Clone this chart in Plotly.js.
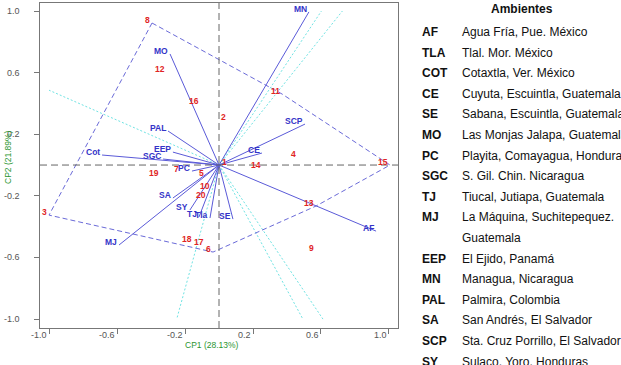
<!DOCTYPE html>
<html>
<head>
<meta charset="utf-8">
<script src="https://cdn.plot.ly/plotly-3.0.1.min.js"></script>
<style>
html, body { margin: 0; padding: 0; background: #ffffff; overflow: hidden; }
#chart { width: 621px; height: 365px; }
</style>
</head>
<body>
<div id="chart"></div>
<script>
// GGE biplot: genotype scores on CP1 / CP2
const genotypeLabels = ['1','2','3','4','5','6','7','8','9','10','11','12','13','14','15','16','17','18','19','20'];
const genotypeCP1 = [0.056, 0.05, -1.0, 0.462, -0.074, -0.035, -0.221, -0.394, 0.571, -0.041,
                     0.371, -0.306, 0.571, 0.259, 1.006, -0.106, -0.074, -0.147, -0.341, -0.065];
const genotypeCP2 = [0.002, 0.292, -0.325, 0.052, -0.071, -0.565, -0.045, 0.922, -0.558, -0.156,
                     0.461, 0.604, -0.266, -0.019, 0.0, 0.396, -0.519, -0.5, -0.071, -0.211];

// Environment vectors
const envLabels = ['MN','SCP','CE','AF','SE','TJ','Tla','SY','SA','MJ','PC','SGC','Cot','EEP','PAL','MO'];
const envCP1 = [0.529, 0.506, 0.253, 0.924, 0.082, -0.118, -0.053, -0.171, -0.271, -0.588,
                -0.159, -0.329, -0.688, -0.271, -0.3, -0.288];
const envCP2 = [0.994, 0.266, 0.078, -0.429, -0.351, -0.338, -0.344, -0.292, -0.214, -0.519,
                -0.039, 0.039, 0.065, 0.084, 0.221, 0.721];

// Vertex genotypes of the polygon, in drawing order
const polygonGenotypes = ['8','11','15','13','6','3'];

// Axes
const tickValues = [-1.0, -0.6, -0.2, 0.2, 0.6, 1.0];
const tickLabels = ['-1.0', '-0.6', '-0.2', '0.2', '0.6', '1.0'];
const xTitle = 'CP1 (28.13%)';
const yTitle = 'CP2 (21.89%)';

// Key of environments
const keyTitle = 'Ambientes';
const keyCodes = ['AF','TLA','COT','CE','SE','MO','PC','SGC','TJ','MJ','EEP','MN','PAL','SA','SCP','SY'];
const keyNames = [
  'Agua Fría, Pue. México',
  'Tlal. Mor. México',
  'Cotaxtla, Ver. México',
  'Cuyuta, Escuintla, Guatemala',
  'Sabana, Escuintla, Guatemala',
  'Las Monjas Jalapa, Guatemala',
  'Playita, Comayagua, Honduras',
  'S. Gil. Chin. Nicaragua',
  'Tiucal, Jutiapa, Guatemala',
  'La Máquina, Suchitepequez.\nGuatemala',
  'El Ejido, Panamá',
  'Managua, Nicaragua',
  'Palmira, Colombia',
  'San Andrés, El Salvador',
  'Sta. Cruz Porrillo, El Salvador',
  'Sulaco, Yoro, Honduras'
];

// ---- geometry of the drawing area (px) ----
const W = 621, H = 365;
const M = { l: 40, r: 223, t: 3, b: 37 };
const plotW = W - M.l - M.r, plotH = H - M.t - M.b;
const FONT = 'Liberation Sans, Arial, Helvetica, sans-serif';
const px2paperX = px => (px - M.l) / plotW;
const px2paperY = py => (H - M.b - py) / plotH;

// polygon through the vertex genotypes
const vIdx = polygonGenotypes.map(g => genotypeLabels.indexOf(g));
const polyX = vIdx.map(i => genotypeCP1[i]).concat([genotypeCP1[vIdx[0]]]);
const polyY = vIdx.map(i => genotypeCP2[i]).concat([genotypeCP2[vIdx[0]]]);

// rays from the origin perpendicular to each polygon side, out to the unit box
const rayX = [], rayY = [];
for (let k = 0; k < vIdx.length; k++) {
  const a = vIdx[k], b = vIdx[(k + 1) % vIdx.length];
  const ax = genotypeCP1[a], ay = genotypeCP2[a];
  const ex = genotypeCP1[b] - ax, ey = genotypeCP2[b] - ay;
  let nx = ey, ny = -ex;
  if (nx * ax + ny * ay < 0) { nx = -nx; ny = -ny; }
  const t = 1 / Math.max(Math.abs(nx), Math.abs(ny));
  rayX.push(0, nx * t, null);
  rayY.push(0, ny * t, null);
}

// environment vectors from the origin
const vecX = [], vecY = [];
envLabels.forEach((_, i) => { vecX.push(0, envCP1[i], null); vecY.push(0, envCP2[i], null); });

const traces = [
  { x: rayX, y: rayY, mode: 'lines', hoverinfo: 'skip', showlegend: false,
    line: { color: '#6fe3e3', width: 1, dash: '2px,2px' } },
  { x: vecX, y: vecY, mode: 'lines', hoverinfo: 'skip', showlegend: false,
    line: { color: '#5a5ad8', width: 1 } },
  { x: polyX, y: polyY, mode: 'lines', hoverinfo: 'skip', showlegend: false,
    line: { color: '#6a6ad8', width: 1, dash: '5px,3px' } }
];

const annotations = [];

// genotype labels, set just left of and above each point
genotypeLabels.forEach((g, i) => {
  annotations.push({ x: genotypeCP1[i], y: genotypeCP2[i], xref: 'x', yref: 'y',
    text: '<b>' + g + '</b>', showarrow: false, xanchor: 'right', yanchor: 'middle',
    xshift: -1, yshift: 3, borderpad: 0,
    font: { family: FONT, size: 8.5, color: '#e02424' } });
});

// environment labels at the tips of their vectors
envLabels.forEach((e, i) => {
  annotations.push({ x: envCP1[i], y: envCP2[i], xref: 'x', yref: 'y',
    text: '<b>' + e + '</b>', showarrow: false, xanchor: 'right', yanchor: 'middle',
    xshift: -1, yshift: 3, borderpad: 0,
    font: { family: FONT, size: 8.5, color: '#3434c8' } });
});

// tick labels: x labels sit just left of their ticks, y labels right-aligned
tickValues.forEach((v, i) => {
  annotations.push({ xref: 'x', yref: 'paper', x: v, y: px2paperY(335),
    text: tickLabels[i], showarrow: false, xanchor: 'right', yanchor: 'middle',
    xshift: -1, borderpad: 0,
    font: { family: FONT, size: 9, color: '#555' } });
  annotations.push({ xref: 'paper', yref: 'y', x: px2paperX(21), y: v,
    text: tickLabels[i], showarrow: false, xanchor: 'right', yanchor: 'middle',
    borderpad: 0,
    font: { family: FONT, size: 9, color: '#555' } });
});

// axis titles
annotations.push({ xref: 'paper', yref: 'paper', x: px2paperX(212), y: px2paperY(345),
  text: xTitle, showarrow: false, xanchor: 'center', yanchor: 'middle',
  font: { family: FONT, size: 8.5, color: '#2a952f' } });
annotations.push({ xref: 'paper', yref: 'paper', x: px2paperX(8), y: px2paperY(157),
  text: yTitle, showarrow: false, textangle: -90, xanchor: 'center', yanchor: 'middle',
  font: { family: FONT, size: 8.5, color: '#2a952f' } });

// key of environments on the right
annotations.push({ xref: 'paper', yref: 'paper', x: px2paperX(522), y: px2paperY(9),
  text: '<b>' + keyTitle + '</b>', showarrow: false, xanchor: 'center', yanchor: 'middle',
  font: { family: FONT, size: 12, color: '#111' } });
let row = 0;
const rowY = r => 32 + 20.6 * r;
keyCodes.forEach((c, i) => {
  annotations.push({ xref: 'paper', yref: 'paper', x: px2paperX(420), y: px2paperY(rowY(row)),
    text: '<b>' + c + '</b>', showarrow: false, xanchor: 'left', yanchor: 'middle',
    font: { family: FONT, size: 12, color: '#111' } });
  keyNames[i].split('\n').forEach(line => {
    annotations.push({ xref: 'paper', yref: 'paper', x: px2paperX(460), y: px2paperY(rowY(row)),
      text: line, showarrow: false, xanchor: 'left', yanchor: 'middle',
      font: { family: FONT, size: 12, color: '#111' } });
    row++;
  });
});

const axisCommon = {
  tickmode: 'array', tickvals: tickValues, ticktext: tickLabels, showticklabels: false,
  ticks: 'outside', ticklen: 5, tickwidth: 1, tickcolor: '#777',
  showline: true, mirror: true, linecolor: '#777', linewidth: 1,
  showgrid: false, zeroline: false, fixedrange: true
};

const layout = {
  width: W, height: H,
  margin: M,
  paper_bgcolor: '#ffffff', plot_bgcolor: '#ffffff',
  showlegend: false,
  xaxis: Object.assign({}, axisCommon, { range: [-1.053, 1.053] }),
  yaxis: Object.assign({}, axisCommon, { range: [-1.058, 1.052] }),
  shapes: [
    { type: 'line', xref: 'paper', yref: 'y', x0: 0, x1: 1, y0: 0, y1: 0,
      line: { color: '#666', width: 1, dash: '7px,4px' } },
    { type: 'line', xref: 'x', yref: 'paper', x0: 0, x1: 0, y0: 0, y1: 1,
      line: { color: '#666', width: 1, dash: '7px,4px' } }
  ],
  annotations: annotations
};

Plotly.newPlot('chart', traces, layout, { displayModeBar: false, staticPlot: true });
</script>
</body>
</html>
